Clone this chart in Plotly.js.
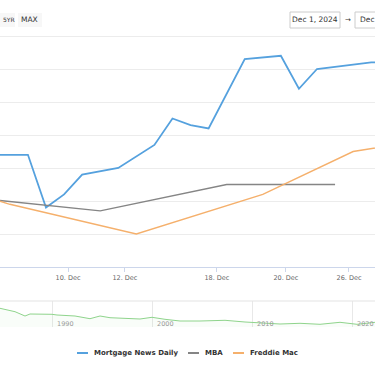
<!DOCTYPE html>
<html>
<head>
<meta charset="utf-8">
<script src="https://cdn.plot.ly/plotly-3.0.1.min.js"></script>
<style>
  html, body { margin: 0; padding: 0; background: #fff; }
  #chart { width: 375px; height: 366px; }
</style>
</head>
<body>
<div id="chart"></div>
<script>
// ---- Data (ordinal slot index on the main axis; union of all series' points) ----
const seriesNames = ["Mortgage News Daily", "MBA", "Freddie Mac"];
const seriesColors = ["#55a1de", "#858585", "#f5b06c"];

const mndSlot = [-3, -1, 0, 1, 2, 4, 6, 7, 8, 9, 11, 13, 14, 15, 18, 19];
const mndRate = [6.84, 6.84, 6.68, 6.72, 6.78, 6.80, 6.87, 6.95, 6.93, 6.92, 7.13, 7.14, 7.04, 7.10, 7.12, 7.12];

const mbaSlot = [-4, 3, 10, 16];
const mbaRate = [6.71, 6.67, 6.75, 6.75];

const fmSlot = [-9, -2, 5, 12, 17, 24];
const fmRate = [6.81, 6.69, 6.60, 6.72, 6.85, 6.91];

// x tick positions (midnight of the labelled dates on the ordinal scale)
const tickSlot = [1.22, 4.37, 9.46, 13.28, 16.77];
const tickLabel = ["10. Dec", "12. Dec", "18. Dec", "20. Dec", "26. Dec"];

// Navigator (long history)
const navYear = [1971, 1975, 1980, 1981.8, 1983, 1984, 1984.8, 1986.3, 1987.3, 1987.8, 1990, 1990.5, 1992.3, 1993.8, 1994.8, 1995.8, 1998.8, 2000, 2001.3, 2002.8, 2004.8, 2007.3, 2009.3, 2010.8, 2012.8, 2014.8, 2016.8, 2018.8, 2020.5, 2022.3, 2023, 2024];
const navRate = [7.5, 9.0, 13.7, 18.0, 13.2, 13.9, 12.68, 10.73, 8.26, 9.41, 9.23, 8.83, 8.26, 6.71, 8.26, 7.28, 6.53, 7.51, 6.36, 5.38, 5.38, 5.79, 4.81, 4.41, 3.66, 4.06, 3.49, 4.64, 3.49, 4.64, 6.5, 6.8];
const navTicks = [1990, 2000, 2010, 2020];
const navLabels = ["1990", "2000", "2010", "2020"];

// ---- Layout helpers ----
const W = 375, H = 366;
const px = x => x / W;
const py = y => 1 - y / H;
const FONT = "DejaVu Sans, Verdana, sans-serif";

const traces = [
  { x: mndSlot, y: mndRate, name: seriesNames[0], type: "scatter", mode: "lines",
    line: { color: seriesColors[0], width: 1.8 }, xaxis: "x", yaxis: "y", hoverinfo: "skip" },
  { x: mbaSlot, y: mbaRate, name: seriesNames[1], type: "scatter", mode: "lines",
    line: { color: seriesColors[1], width: 1.4 }, xaxis: "x", yaxis: "y", hoverinfo: "skip" },
  { x: fmSlot, y: fmRate, name: seriesNames[2], type: "scatter", mode: "lines",
    line: { color: seriesColors[2], width: 1.4 }, xaxis: "x", yaxis: "y", hoverinfo: "skip" },
  { x: navYear, y: navRate, name: "navigator", type: "scatter", mode: "lines",
    line: { color: "#8fd48c", width: 1 }, fill: "tozeroy", fillcolor: "rgba(143,212,140,0.05)",
    xaxis: "x2", yaxis: "y2", hoverinfo: "skip" }
];

const shapes = [
  // navigator outline top
  { type: "line", xref: "paper", yref: "paper", x0: 0, x1: 1, y0: py(301), y1: py(301),
    line: { color: "#e3e3e3", width: 1 } },
  // range selector buttons background
  { type: "rect", xref: "paper", yref: "paper", x0: px(-4), x1: px(15), y0: py(27), y1: py(13),
    fillcolor: "#f7f7f7", line: { width: 0 } },
  { type: "rect", xref: "paper", yref: "paper", x0: px(18), x1: px(42), y0: py(27), y1: py(13),
    fillcolor: "#f7f7f7", line: { width: 0 } },
  // date input boxes
  { type: "rect", xref: "paper", yref: "paper", x0: px(290), x1: px(340), y0: py(28), y1: py(12),
    fillcolor: "#ffffff", line: { color: "#cccccc", width: 1 } },
  { type: "rect", xref: "paper", yref: "paper", x0: px(355), x1: px(385), y0: py(28), y1: py(12),
    fillcolor: "#ffffff", line: { color: "#cccccc", width: 1 } }
];

const annotations = [
  { text: "5YR", xref: "paper", yref: "paper", x: px(0.5), y: py(20), xanchor: "left", yanchor: "middle",
    showarrow: false, font: { family: FONT, size: 6, color: "#333" } },
  { text: "MAX", xref: "paper", yref: "paper", x: px(29.5), y: py(20), xanchor: "center", yanchor: "middle",
    showarrow: false, font: { family: FONT, size: 7.5, color: "#333" } },
  { text: "Dec 1, 2024", xref: "paper", yref: "paper", x: px(315), y: py(20), xanchor: "center", yanchor: "middle",
    showarrow: false, font: { family: FONT, size: 7.5, color: "#333" } },
  { text: "→", xref: "paper", yref: "paper", x: px(347.5), y: py(20), xanchor: "center", yanchor: "middle",
    showarrow: false, font: { family: FONT, size: 7, color: "#333" } },
  { text: "Dec", xref: "paper", yref: "paper", x: px(358), y: py(20), xanchor: "left", yanchor: "middle",
    showarrow: false, font: { family: FONT, size: 7.5, color: "#333" } }
];

// navigator axis labels (inside, right of the grid line, near the bottom)
navTicks.forEach((t, k) => {
  annotations.push({ text: navLabels[k], xref: "x2", yref: "paper", x: t, y: py(323.5),
    xanchor: "left", yanchor: "middle", xshift: 3, showarrow: false,
    font: { family: FONT, size: 6.5, color: "#9a9a9a" } });
});

// manual legend
const legendSym = [[77, 88], [188, 199], [233, 244]];
const legendTextX = [92, 203, 248];
const legendY = 353;
seriesNames.forEach((n, k) => {
  shapes.push({ type: "line", xref: "paper", yref: "paper",
    x0: px(legendSym[k][0]), x1: px(legendSym[k][1]), y0: py(legendY), y1: py(legendY),
    line: { color: seriesColors[k], width: 2 } });
  annotations.push({ text: n, xref: "paper", yref: "paper", x: px(legendTextX[k]), y: py(legendY),
    xanchor: "left", yanchor: "middle", showarrow: false,
    font: { family: FONT, size: 7, color: "#333", weight: "bold" } });
});

const layout = {
  width: W, height: H,
  margin: { l: 0, r: 0, t: 0, b: 0, pad: 0 },
  paper_bgcolor: "#ffffff",
  plot_bgcolor: "rgba(0,0,0,0)",
  showlegend: false,
  xaxis: {
    domain: [0, 1], anchor: "y", range: [-2.546, 18.21],
    tickmode: "array", tickvals: tickSlot, ticktext: tickLabel,
    ticks: "outside", ticklen: 4, tickcolor: "#ccd6eb", tickwidth: 1,
    showline: true, linecolor: "#ccd6eb", linewidth: 1,
    showgrid: false, zeroline: false,
    tickfont: { family: FONT, size: 6.5, color: "#666" }
  },
  yaxis: {
    domain: [py(267), py(19.5)], anchor: "x", range: [6.5, 7.25],
    tick0: 6.5, dtick: 0.1, showticklabels: false, ticks: "",
    gridcolor: "#ececec", gridwidth: 1, zeroline: false, showline: false
  },
  xaxis2: {
    domain: [0, 1], anchor: "y2", range: [1984.8, 2022.3],
    tickmode: "array", tickvals: navTicks, showticklabels: false, ticks: "",
    showgrid: true, gridcolor: "#e8e8e8", gridwidth: 1,
    showline: false, zeroline: false
  },
  yaxis2: {
    domain: [py(327), py(301)], anchor: "x2", range: [1.94, 16.88],
    showgrid: false, showticklabels: false, zeroline: false, ticks: ""
  },
  shapes: shapes,
  annotations: annotations
};

Plotly.newPlot("chart", traces, layout, { staticPlot: true, displayModeBar: false });
</script>
</body>
</html>
